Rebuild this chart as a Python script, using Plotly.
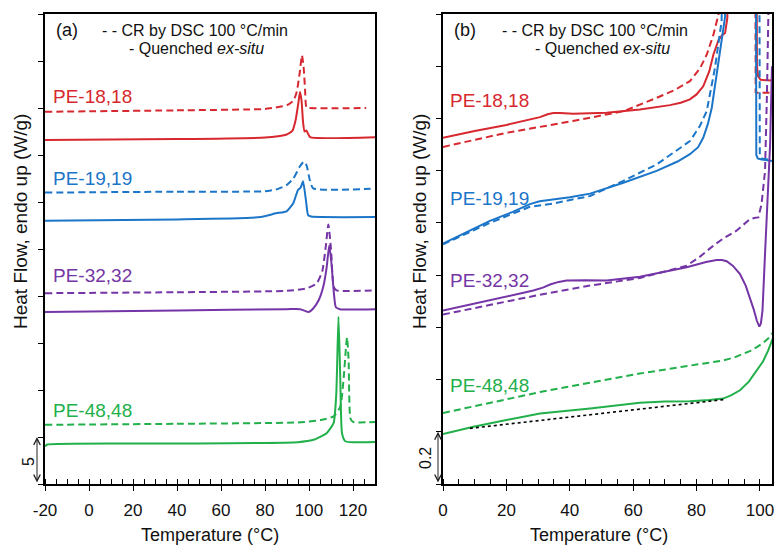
import plotly.graph_objects as go

# ---------------- Panel (a) data: Temperature (°C) vs heat flow (W/g, offset) ----------------
a_pe18_cr_T = [-20, 40, 80, 86, 90, 93, 94.5, 95.8, 96.8, 97.6, 98.2, 98.8, 100, 126]
a_pe18_cr_y = [39.6, 39.75, 39.9, 40.1, 40.3, 40.8, 41.8, 43.8, 45.6, 44.2, 42.0, 40.1, 40.0, 40.0]
a_pe18_q_T = [-20, 40, 80, 86, 90, 92.5, 94, 95.2, 95.9, 96.6, 97.3, 98, 98.8, 99.5, 100.5, 130]
a_pe18_q_y = [36.6, 36.7, 36.85, 37.0, 37.2, 37.6, 38.8, 40.6, 41.7, 40.8, 38.5, 37.5, 37.6, 37.3, 36.9, 36.9]

a_pe19_cr_T = [-20, 40, 80, 86, 89.8, 92.9, 95.9, 97.7, 98.9, 100.4, 101.9, 128]
a_pe19_cr_y = [31.0, 31.1, 31.15, 31.4, 31.8, 32.5, 33.8, 34.3, 33.9, 32.3, 31.45, 31.4]
a_pe19_q_T = [-20, 40, 78, 85, 89.8, 92.9, 95.0, 95.9, 96.5, 97.3, 98.6, 99.6, 101, 130]
a_pe19_q_y = [28.0, 28.15, 28.4, 28.8, 29.0, 29.9, 31.3, 31.45, 31.7, 32.2, 30.2, 28.6, 28.45, 28.4]

a_pe32_cr_T = [-20, 40, 90, 98.9, 103.5, 106, 107.5, 108.8, 110, 111.2, 112.5, 130]
a_pe32_cr_y = [20.3, 20.4, 20.55, 20.8, 21.35, 22.6, 25.0, 27.6, 25.0, 21.0, 20.6, 20.6]
a_pe32_q_T = [-20, 40, 90, 96, 99.7, 102, 104.5, 106.5, 108, 109.2, 110.2, 111.2, 112.2, 114, 130]
a_pe32_q_y = [18.3, 18.45, 18.6, 18.6, 18.3, 18.7, 19.6, 21.0, 23.0, 25.4, 23.5, 20.6, 18.8, 18.6, 18.6]

a_pe48_cr_T = [-20, 40, 95, 105.3, 111.2, 114.2, 115.8, 116.8, 117.3, 118.0, 118.8, 120, 130]
a_pe48_cr_y = [6.3, 6.4, 6.55, 6.8, 7.2, 8.2, 11.4, 14.5, 15.6, 13.2, 7.0, 6.6, 6.6]
a_pe48_q_T = [-20, -19, 40, 95, 102, 108, 111.2, 112.4, 113.4, 114.2, 115, 116.5, 130]
a_pe48_q_y = [4.0, 4.2, 4.3, 4.45, 4.7, 5.4, 6.5, 9.6, 17.8, 11.4, 5.4, 4.55, 4.47]

# ---------------- Panel (b) data (zoom) ----------------
b_pe18_q_T = [0, 10, 20, 24.3, 28, 30.6, 33, 34.8, 36.9, 41.1, 51.6, 62.1, 71.6, 75, 77.9, 80, 82.1, 84, 85.3,
              86.9, 88, 89, 89.7, 90.3, 98.9, 99.05, 99.4, 100.2, 103.8]
b_pe18_q_y = [1.326, 1.352, 1.375, 1.387, 1.397, 1.405, 1.416, 1.421, 1.421, 1.418, 1.422, 1.434, 1.451, 1.460,
              1.473, 1.492, 1.523, 1.58, 1.644, 1.70, 1.718, 1.727, 1.784, 2.2, 2.2, 1.60, 1.562, 1.548, 1.545]
b_pe18_cr_T = [0, 20, 41, 57, 67.4, 73, 77.9, 81, 83.2, 85.3, 86.9, 87.5, 98.5, 98.65, 99.2, 103.8]
b_pe18_cr_y = [1.291, 1.345, 1.39, 1.428, 1.479, 1.508, 1.543, 1.59, 1.644, 1.72, 1.797, 2.2, 2.2, 1.50, 1.498,
               1.498]

b_pe19_q_T = [0, 14.8, 22, 27.4, 30.5, 33.8, 40, 46.4, 56.9, 67.4, 74, 77.9, 80.5, 82.1, 83.6, 84.8, 86.9, 87.9,
              89, 89.5, 98.7, 98.85, 99.3, 100.5, 103.8]
b_pe19_q_y = [0.921, 1.008, 1.042, 1.072, 1.083, 1.088, 1.098, 1.112, 1.154, 1.199, 1.235, 1.263, 1.29, 1.326,
              1.38, 1.441, 1.606, 1.695, 1.79, 2.2, 2.2, 1.26, 1.247, 1.243, 1.237]
b_pe19_cr_T = [0, 14.8, 27.4, 33.8, 46.4, 56.9, 67.4, 77.9, 81, 83.2, 85.8, 87.9, 88.5, 99.8, 99.95, 100.5,
               103.8]
b_pe19_cr_y = [0.918, 1.0, 1.062, 1.072, 1.103, 1.161, 1.224, 1.313, 1.37, 1.428, 1.593, 1.772, 2.2, 2.2, 1.26,
               1.247, 1.24]

b_pe32_q_T = [0, 14.8, 28.5, 31.5, 34, 36.5, 39, 45, 51.6, 62.1, 76.9, 83, 86.3, 88, 89.5, 91.5, 93.7, 95.5,
              96.8, 98, 99, 99.8, 100.3, 100.8, 101.6, 102.6, 103.2, 103.8]
b_pe32_q_y = [0.664, 0.703, 0.741, 0.752, 0.765, 0.774, 0.779, 0.780, 0.779, 0.794, 0.830, 0.850, 0.858, 0.858,
              0.853, 0.835, 0.804, 0.76, 0.715, 0.67, 0.626, 0.603, 0.615, 0.664, 0.881, 1.135, 1.30, 1.6]
b_pe32_cr_T = [0, 30.6, 46.4, 62.1, 76.9, 81, 85.3, 89, 92.6, 96.8, 98.5, 99.5, 100.5, 101.6, 102.2, 102.8]
b_pe32_cr_y = [0.649, 0.725, 0.760, 0.789, 0.836, 0.87, 0.913, 0.945, 0.970, 1.014, 1.02, 1.021, 1.072, 1.199,
               1.49, 1.9]

b_pe48_cr_T = [0, 15, 30.6, 45, 62.1, 75, 88.4, 92, 95, 97, 99, 101, 102.5, 104.2]
b_pe48_cr_y = [0.272, 0.312, 0.352, 0.385, 0.423, 0.448, 0.473, 0.485, 0.50, 0.51, 0.524, 0.54, 0.556, 0.581]
b_pe48_q_T = [0, 9.6, 20, 30.6, 46.4, 62.1, 70, 77.9, 84, 88.4, 91, 93.7, 96.5, 99, 101, 102.6, 104.2]
b_pe48_q_y = [0.191, 0.219, 0.245, 0.270, 0.289, 0.311, 0.316, 0.317, 0.322, 0.327, 0.340, 0.359, 0.392, 0.435,
              0.47, 0.512, 0.562]
b_base_T = [8.5, 88.4]
b_base_y = [0.213, 0.323]

labels = ["PE-18,18", "PE-19,19", "PE-32,32", "PE-48,48"]
colors = ["#d7282f", "#1b75c8", "#7535a6", "#22b04b"]
a_tickvals = [-20, 0, 20, 40, 60, 80, 100, 120]
a_ticktext = ["-20", "0", "20", "40", "60", "80", "100", "120"]
b_tickvals = [0, 20, 40, 60, 80, 100]
b_ticktext = ["0", "20", "40", "60", "80", "100"]

W, H = 776, 545
FONT = "Arial, Liberation Sans, Helvetica, sans-serif"
DASH = "7px,4px"

fig = go.Figure()


def add(T, y, color, dash, xa, ya, shape, width=2):
    line = dict(color=color, width=width, dash=dash, shape=shape)
    if shape == "spline":
        line["smoothing"] = 0.5
    fig.add_trace(go.Scatter(x=T, y=y, mode="lines", xaxis=xa, yaxis=ya, line=line,
                             showlegend=False, hoverinfo="skip"))


panel_a = [(a_pe18_cr_T, a_pe18_cr_y, a_pe18_q_T, a_pe18_q_y),
           (a_pe19_cr_T, a_pe19_cr_y, a_pe19_q_T, a_pe19_q_y),
           (a_pe32_cr_T, a_pe32_cr_y, a_pe32_q_T, a_pe32_q_y),
           (a_pe48_cr_T, a_pe48_cr_y, a_pe48_q_T, a_pe48_q_y)]
panel_b = [(b_pe18_cr_T, b_pe18_cr_y, b_pe18_q_T, b_pe18_q_y),
           (b_pe19_cr_T, b_pe19_cr_y, b_pe19_q_T, b_pe19_q_y),
           (b_pe32_cr_T, b_pe32_cr_y, b_pe32_q_T, b_pe32_q_y),
           (b_pe48_cr_T, b_pe48_cr_y, b_pe48_q_T, b_pe48_q_y)]

for c, (cT, cy, qT, qy) in zip(colors, panel_a):
    add(cT, cy, c, DASH, "x", "y", "spline")
    add(qT, qy, c, "solid", "x", "y", "spline")
for c, (cT, cy, qT, qy) in zip(colors, panel_b):
    add(cT, cy, c, DASH, "x2", "y2", "linear")
    add(qT, qy, c, "solid", "x2", "y2", "linear")
fig.add_trace(go.Scatter(x=b_base_T, y=b_base_y, mode="lines", xaxis="x2", yaxis="y2",
                         line=dict(color="black", width=1.6, dash="dot"), showlegend=False, hoverinfo="skip"))


def px(x, y):
    return x / W, 1 - y / H


ydom = [1 - 484 / H, 1 - 14 / H]
common_x = dict(showline=True, mirror=True, linecolor="black", linewidth=1.5, showgrid=False, zeroline=False,
                automargin=False, ticks="outside", ticklen=5, tickwidth=1.2, tickcolor="black",
                minor=dict(dtick=5, ticks="inside", ticklen=5, tickwidth=1.2, tickcolor="black", showgrid=False),
                tickfont=dict(family=FONT, size=17, color="#111"), ticklabelstandoff=5)
common_y = dict(showline=True, mirror=True, linecolor="black", linewidth=1.5, showgrid=False, zeroline=False,
                automargin=False, ticks="outside", ticklen=5, tickwidth=1.2, tickcolor="black",
                showticklabels=False, tick0=0)

fig.update_layout(
    width=W, height=H, margin=dict(l=0, r=0, t=0, b=0, autoexpand=False),
    paper_bgcolor="white", plot_bgcolor="white",
    font=dict(family=FONT, color="#111"),
    xaxis=dict(domain=[45 / W, 375 / W], range=[-20, 130], anchor="y",
               tickvals=a_tickvals, ticktext=a_ticktext, **common_x),
    yaxis=dict(domain=ydom, range=[0, 50], dtick=5, anchor="x", **common_y),
    xaxis2=dict(domain=[443 / W, 772 / W], range=[0, 103.8], anchor="y2",
                tickvals=b_tickvals, ticktext=b_ticktext, **common_x),
    yaxis2=dict(domain=ydom, range=[0, 1.8], dtick=0.2, anchor="x2", **common_y),
)

ann = []


def text(x, y, s, size=15, color="#111", xanchor="left", angle=0):
    X, Y = px(x, y)
    ann.append(dict(x=X, y=Y, xref="paper", yref="paper", text=s, showarrow=False, xanchor=xanchor,
                    yanchor="middle", textangle=angle, font=dict(family=FONT, size=size, color=color)))


# panel headers / legends
text(54, 30, "(a)", size=18)
text(100, 30, "- - CR by DSC 100 °C/min", size=16)
text(127, 48, "- Quenched <i>ex-situ</i>", size=16)
text(452, 30, "(b)", size=18)
text(500, 30, "- - CR by DSC 100 °C/min", size=16)
text(533, 48, "- Quenched <i>ex-situ</i>", size=16)

# sample labels
for lab, c, ya, yb in zip(labels, colors, [97, 178, 275, 410], [100, 198, 280, 385]):
    text(51, ya, lab, size=19, color=c)
    text(448, yb, lab, size=19, color=c)

# axis titles
text(20, 222, "Heat Flow, endo up (W/g)", size=19, xanchor="center", angle=-90)
text(419, 222, "Heat Flow, endo up (W/g)", size=19, xanchor="center", angle=-90)
text(210, 535, "Temperature (°C)", size=18, xanchor="center")
text(599, 535, "Temperature (°C)", size=18, xanchor="center")

# scale bars
text(28, 461, "5", size=16, xanchor="center", angle=-90)
text(425, 458, "0.2", size=16, xanchor="center", angle=-90)
for xr, yr, dx, top in [("x domain", "y", (37 - 45) / 330, 5), ("x2 domain", "y2", (438 - 443) / 329, 0.2)]:
    ann.append(dict(x=dx, y=top, xref=xr, yref=yr, ax=dx, ay=0, axref=xr, ayref=yr, text="",
                    showarrow=True, arrowside="end+start", arrowhead=5, startarrowhead=5,
                    arrowsize=1.3, startarrowsize=1.3, arrowwidth=1, arrowcolor="#222"))

fig.update_layout(annotations=ann)
fig.write_html("out.html")
